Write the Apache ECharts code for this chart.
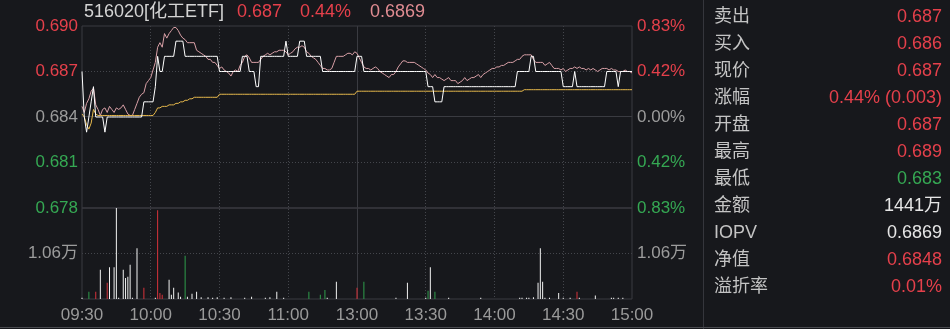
<!DOCTYPE html>
<html><head><meta charset="utf-8">
<script src="https://cdn.jsdelivr.net/npm/echarts@6/dist/echarts.min.js"></script>
<style>html,body{margin:0;padding:0;background:#17181c;}#c{width:950px;height:329px;}</style>
</head><body><div id="c"></div>
<script>
// ---------- data ----------
const preClose = 0.684;
const titleName = '516020[化工ETF]';
const headPrice = '0.687';
const headPct = '0.44%';
const headIopv = '0.6869';

const timeLabels = ['09:30','10:00','10:30','11:00','13:00','13:30','14:00','14:30','15:00'];
const priceTicks = ['0.690','0.687','0.684','0.681','0.678'];
const pctTicks = ['0.83%','0.42%','0.00%','0.42%','0.83%'];
const volTickLabel = '1.06万';
const volTickValue = 1.06;
const volMax = 2.12;

const price = [
0.687,0.684,0.683,0.684,0.685,0.686,0.684,0.684,0.684,0.684,
0.683,0.684,0.684,0.684,0.684,0.684,0.684,0.684,0.684,0.684,
0.684,0.684,0.684,0.684,0.684,0.684,0.684,0.685,0.685,0.685,
0.685,0.685,0.686,0.688,0.687,0.687,0.688,0.688,0.688,0.688,
0.688,0.689,0.689,0.689,0.689,0.688,0.688,0.688,0.688,0.688,
0.688,0.688,0.688,0.688,0.688,0.688,0.688,0.688,0.688,0.688,
0.687,0.687,0.687,0.687,0.687,0.687,0.687,0.687,0.687,0.687,
0.688,0.688,0.688,0.687,0.687,0.687,0.686,0.686,0.688,0.688,
0.688,0.688,0.688,0.688,0.688,0.688,0.688,0.688,0.688,0.689,
0.688,0.688,0.688,0.688,0.688,0.689,0.689,0.689,0.688,0.688,
0.688,0.688,0.688,0.688,0.688,0.687,0.687,0.687,0.687,0.687,
0.687,0.687,0.687,0.687,0.687,0.687,0.687,0.687,0.687,0.687,
0.688,0.688,0.688,0.687,0.687,0.687,0.687,0.687,0.687,0.687,
0.687,0.687,0.687,0.687,0.687,0.687,0.687,0.687,0.687,0.687,
0.687,0.687,0.687,0.687,0.687,0.687,0.687,0.687,0.687,0.687,
0.687,0.686,0.686,0.686,0.685,0.685,0.685,0.685,0.686,0.686,
0.686,0.686,0.686,0.686,0.686,0.686,0.686,0.686,0.686,0.686,
0.686,0.686,0.686,0.686,0.686,0.686,0.686,0.686,0.686,0.686,
0.686,0.686,0.686,0.686,0.686,0.686,0.686,0.686,0.686,0.686,
0.687,0.687,0.687,0.687,0.687,0.687,0.688,0.688,0.687,0.687,
0.687,0.687,0.687,0.687,0.687,0.687,0.687,0.687,0.687,0.687,
0.686,0.686,0.686,0.686,0.686,0.687,0.686,0.686,0.686,0.686,
0.686,0.686,0.686,0.686,0.686,0.686,0.686,0.686,0.686,0.687,
0.687,0.687,0.687,0.687,0.686,0.687,0.687,0.687,0.687,0.687,
0.687
];

const iopv = [
0.6847,0.6843,0.6849,0.6852,0.6857,0.6859,0.6848,0.6845,0.6841,0.6845,
0.6846,0.6843,0.6847,0.6845,0.6843,0.6846,0.6845,0.6846,0.6848,0.6845,
0.6842,0.6841,0.6841,0.6845,0.6849,0.6853,0.6855,0.6856,0.6862,0.6864,
0.6866,0.6871,0.6876,0.6886,0.6889,0.6886,0.6895,0.6892,0.6895,0.6897,
0.6899,0.6899,0.6897,0.6894,0.6892,0.6891,0.6889,0.6889,0.6889,0.6889,
0.6884,0.6883,0.6882,0.6881,0.6880,0.6878,0.6878,0.6876,0.6876,0.6874,
0.6872,0.6873,0.6871,0.6870,0.6869,0.6867,0.6870,0.6871,0.6870,0.6874,
0.6876,0.6880,0.6881,0.6879,0.6876,0.6876,0.6876,0.6876,0.6878,0.6880,
0.6881,0.6882,0.6881,0.6882,0.6883,0.6883,0.6884,0.6884,0.6884,0.6883,
0.6881,0.6882,0.6883,0.6885,0.6886,0.6886,0.6887,0.6886,0.6883,0.6882,
0.6880,0.6879,0.6878,0.6876,0.6874,0.6872,0.6872,0.6871,0.6871,0.6872,
0.6876,0.6880,0.6880,0.6880,0.6880,0.6881,0.6882,0.6882,0.6881,0.6883,
0.6882,0.6879,0.6876,0.6873,0.6872,0.6872,0.6871,0.6872,0.6873,0.6872,
0.6870,0.6869,0.6868,0.6867,0.6866,0.6868,0.6868,0.6870,0.6873,0.6875,
0.6877,0.6877,0.6876,0.6876,0.6876,0.6876,0.6875,0.6874,0.6873,0.6872,
0.6871,0.6869,0.6868,0.6866,0.6868,0.6866,0.6866,0.6865,0.6864,0.6865,
0.6866,0.6864,0.6864,0.6864,0.6862,0.6863,0.6864,0.6866,0.6864,0.6865,
0.6866,0.6866,0.6867,0.6868,0.6866,0.6868,0.6869,0.6870,0.6871,0.6872,
0.6872,0.6873,0.6873,0.6874,0.6874,0.6875,0.6876,0.6876,0.6876,0.6877,
0.6878,0.6878,0.6880,0.6881,0.6881,0.6881,0.6881,0.6878,0.6876,0.6876,
0.6876,0.6876,0.6874,0.6875,0.6876,0.6874,0.6872,0.6872,0.6872,0.6871,
0.6872,0.6870,0.6871,0.6872,0.6872,0.6873,0.6872,0.6873,0.6872,0.6872,
0.6871,0.6872,0.6871,0.6872,0.6871,0.6870,0.6871,0.6872,0.6872,0.6872,
0.6871,0.6872,0.6871,0.6871,0.6870,0.6870,0.6870,0.6871,0.6870,0.6870,
0.6869
];

const avgPrice = [
0.6842,0.6840,0.6835,0.6832,0.6836,0.6845,0.6842,0.6841,0.6841,0.6841,
0.6841,0.6841,0.6841,0.6841,0.6841,0.6841,0.6841,0.6841,0.6841,0.6841,
0.6841,0.6841,0.6841,0.6841,0.6841,0.6841,0.6841,0.6841,0.6841,0.6841,
0.6841,0.6841,0.6843,0.6846,0.6846,0.6847,0.6847,0.6847,0.6848,0.6848,
0.6848,0.6849,0.6849,0.6850,0.6850,0.6851,0.6851,0.6852,0.6852,0.6853,
0.6853,0.6853,0.6853,0.6853,0.6853,0.6853,0.6853,0.6853,0.6853,0.6853,
0.6855,0.6855,0.6855,0.6855,0.6855,0.6855,0.6855,0.6855,0.6855,0.6855,
0.6855,0.6855,0.6855,0.6855,0.6855,0.6855,0.6855,0.6855,0.6855,0.6855,
0.6855,0.6855,0.6855,0.6855,0.6855,0.6855,0.6855,0.6855,0.6855,0.6855,
0.6855,0.6855,0.6855,0.6855,0.6855,0.6855,0.6855,0.6855,0.6855,0.6855,
0.6855,0.6855,0.6855,0.6855,0.6855,0.6855,0.6855,0.6855,0.6855,0.6855,
0.6855,0.6855,0.6855,0.6855,0.6855,0.6855,0.6855,0.6855,0.6855,0.6855,
0.6857,0.6857,0.6857,0.6857,0.6857,0.6857,0.6857,0.6857,0.6857,0.6857,
0.6857,0.6857,0.6857,0.6857,0.6857,0.6857,0.6857,0.6857,0.6857,0.6857,
0.6857,0.6857,0.6857,0.6857,0.6857,0.6857,0.6857,0.6857,0.6857,0.6857,
0.6857,0.6857,0.6857,0.6857,0.6857,0.6857,0.6857,0.6857,0.6857,0.6857,
0.6857,0.6857,0.6857,0.6857,0.6857,0.6857,0.6857,0.6857,0.6857,0.6857,
0.6857,0.6857,0.6857,0.6857,0.6857,0.6857,0.6857,0.6857,0.6857,0.6857,
0.6857,0.6857,0.6857,0.6857,0.6857,0.6857,0.6857,0.6857,0.6857,0.6857,
0.6857,0.6857,0.6857,0.6858,0.6858,0.6858,0.6858,0.6858,0.6858,0.6858,
0.6858,0.6858,0.6858,0.6858,0.6858,0.6858,0.6858,0.6858,0.6858,0.6858,
0.6858,0.6858,0.6858,0.6858,0.6858,0.6858,0.6858,0.6858,0.6858,0.6858,
0.6858,0.6858,0.6858,0.6858,0.6858,0.6858,0.6858,0.6858,0.6858,0.6858,
0.6858,0.6858,0.6858,0.6858,0.6858,0.6858,0.6858,0.6858,0.6858,0.6858,
0.6858
];

// [minute index, volume (万), direction: 1 up, -1 down, 0 flat]
const volumeBars = [
[0,0.03,0],[3,0.17,-1],[6,0.17,1],[8,0.68,0],[11,0.38,1],[12,0.74,0],[14,0.74,0],[15,2.12,0],
[16,0.03,0],[18,0.68,0],[19,0.49,0],[20,0.52,0],[21,0.80,0],[22,0.03,0],[24,1.18,0],[27,0.26,1],
[32,0.03,0],[33,2.07,1],[34,0.14,1],[35,0.10,1],[38,0.45,0],[39,0.10,0],[40,0.26,0],[42,0.15,0],
[43,0.05,0],[45,1.01,-1],[46,0.05,0],[48,0.12,0],[50,0.17,0],[52,0.04,0],[55,0.04,0],[57,0.03,0],
[59,0.04,0],[62,0.03,0],[65,0.04,0],[71,0.03,0],[74,0.05,0],[80,0.03,0],[82,0.04,0],[85,0.17,0],
[88,0.03,0],[99,0.17,-1],[104,0.10,-1],[106,0.21,-1],[107,0.03,0],[111,0.40,0],[120,0.26,1],
[123,0.40,-1],[137,0.03,0],[142,0.38,0],[150,0.03,0],[151,0.19,-1],[152,0.74,0],[154,0.17,-1],
[160,0.03,0],[174,0.03,0],[191,0.03,0],[192,0.03,0],[194,0.03,0],[195,0.03,0],[197,0.04,0],
[199,0.38,0],[200,1.18,0],[201,0.40,0],[202,0.03,0],[204,0.03,0],[208,0.14,0],[210,0.03,0],
[213,0.03,0],[216,0.17,1],[217,0.03,0],[224,0.08,0],[231,0.03,0],[232,0.03,0],[234,0.03,0],[236,0.03,0]
];

const panelLabels = ['卖出','买入','现价','涨幅','开盘','最高','最低','金额','IOPV','净值','溢折率'];
const panelValues = ['0.687','0.686','0.687','0.44% (0.003)','0.687','0.689','0.683','1441万','0.6869','0.6848','0.01%'];
const panelTones  = ['up','up','up','up','up','up','down','flat','flat','up','up'];

// ---------- styling ----------
const RED = '#e5404b', GREEN = '#35a853', GRAY = '#9c9c9c', WHITE = '#e6e6e6';
const GRIDSOLID = '#3a3b41', GRIDDOT = '#44464c';
const FONT_LATIN = '"Liberation Sans","Noto Sans CJK SC",sans-serif';

function pad(n){return (n<10?'0':'')+n;}
function fmt(m){return pad(Math.floor(m/60))+':'+pad(m%60);}
const cats = [];
for (let m = 9*60+30; m < 11*60+30; m++) cats.push(fmt(m));
for (let m = 13*60; m <= 15*60; m++) cats.push(fmt(m));

const toneColor = {up: RED, down: GREEN, flat: WHITE};
const dirColor = {'1': '#d8323b', '-1': '#2f9e4c', '0': '#f2f2f2'};

const volData = cats.map(() => null);
volumeBars.forEach(([i, v, d]) => {
  volData[i] = {value: v, itemStyle: {color: dirColor[String(d)]}};
});

const priceTickValues = priceTicks.map(parseFloat);
const priceMax = priceTickValues[0], priceMin = priceTickValues[priceTickValues.length-1];
const priceStep = +(priceMax - priceTickValues[1]).toFixed(4);
const priceIdx = v => Math.round((priceMax - v) / priceStep);
const volIsMid = v => Math.abs(v - volTickValue) < 1e-6;
const tickColor = v => { const k = priceIdx(v); return k < 2 ? RED : (k === 2 ? GRAY : GREEN); };

const chart = echarts.init(document.getElementById('c'), null, {renderer: 'canvas'});

const baseGraphic = [
  {type:'text', x:84, y:12, style:{text:titleName, fill:'#d4d4d4', font:'18px '+FONT_LATIN, verticalAlign:'middle', textVerticalAlign:'middle'}},
  {type:'text', x:237, y:12, style:{text:headPrice, fill:RED, font:'18px '+FONT_LATIN, verticalAlign:'middle', textVerticalAlign:'middle'}},
  {type:'text', x:300, y:12, style:{text:headPct, fill:RED, font:'18px '+FONT_LATIN, verticalAlign:'middle', textVerticalAlign:'middle'}},
  {type:'text', x:370, y:12, style:{text:headIopv, fill:'#e08c92', font:'18px '+FONT_LATIN, verticalAlign:'middle', textVerticalAlign:'middle'}},
  {type:'line', shape:{x1:703.5, y1:0, x2:703.5, y2:329}, style:{stroke:'#35363c', lineWidth:1}},
  {type:'line', shape:{x1:0, y1:327.5, x2:950, y2:327.5}, style:{stroke:'#4a4b50', lineWidth:1}}
];
panelLabels.forEach((lab, k) => {
  const y = 17 + 27*k;
  baseGraphic.push({type:'text', x:714, y:y, style:{text:lab, fill:'#c4c4c4', font:'18px '+FONT_LATIN, verticalAlign:'middle', textVerticalAlign:'middle'}});
  baseGraphic.push({type:'text', x:942, y:y, style:{text:panelValues[k], fill:toneColor[panelTones[k]], font:'18px '+FONT_LATIN, align:'right', textAlign:'right', verticalAlign:'middle', textVerticalAlign:'middle'}});
});

chart.setOption({
  backgroundColor: '#17181c',
  animation: false,
  grid: [
    {left:82, right:318, top:26, height:182, show:true, borderColor:GRIDSOLID, borderWidth:1, backgroundColor:'transparent', containLabel:false, outerBoundsMode:'none'},
    {left:82, right:318, top:208, height:91, show:true, borderColor:GRIDSOLID, borderWidth:1, backgroundColor:'transparent', containLabel:false, outerBoundsMode:'none'}
  ],
  xAxis: [
    {type:'category', gridIndex:0, data:cats, boundaryGap:false,
     axisLine:{show:false}, axisTick:{show:false}, axisLabel:{show:false}, splitLine:{show:false}},
    {type:'category', gridIndex:1, data:cats, boundaryGap:false,
     axisLine:{show:false}, axisTick:{show:false}, splitLine:{show:false},
     axisLabel:{show:true, interval:(i, v) => timeLabels.includes(v), color:'#9a9a9a', fontSize:17, fontFamily:FONT_LATIN, margin:8, hideOverlap:false}}
  ],
  yAxis: [
    {type:'value', gridIndex:0, position:'left', min:priceMin, max:priceMax, interval:priceStep,
     axisLine:{show:false}, axisTick:{show:false}, splitLine:{show:false},
     axisLabel:{formatter: v => priceTicks[priceIdx(v)] || '', color: tickColor, fontSize:17, fontFamily:FONT_LATIN, margin:4}},
    {type:'value', gridIndex:0, position:'right', min:priceMin, max:priceMax, interval:priceStep,
     axisLine:{show:false}, axisTick:{show:false}, splitLine:{show:false},
     axisLabel:{formatter: v => pctTicks[priceIdx(v)] || '', color: tickColor, fontSize:17, fontFamily:FONT_LATIN, margin:5}},
    {type:'value', gridIndex:1, position:'left', min:0, max:volMax, interval:volTickValue,
     axisLine:{show:false}, axisTick:{show:false}, splitLine:{show:false},
     axisLabel:{formatter: v => volIsMid(v) ? volTickLabel : '', color:GRAY, fontSize:17, fontFamily:FONT_LATIN, margin:4}},
    {type:'value', gridIndex:1, position:'right', min:0, max:volMax, interval:volTickValue,
     axisLine:{show:false}, axisTick:{show:false}, splitLine:{show:false},
     axisLabel:{formatter: v => volIsMid(v) ? volTickLabel : '', color:GRAY, fontSize:17, fontFamily:FONT_LATIN, margin:5}}
  ],
  series: [
    {name:'IOPV', type:'line', xAxisIndex:0, yAxisIndex:0, data:iopv, showSymbol:false, symbol:'none',
     lineStyle:{color:'#d9a0a7', width:1}, z:3},
    {name:'均价', type:'line', xAxisIndex:0, yAxisIndex:0, data:avgPrice, showSymbol:false, symbol:'none',
     lineStyle:{color:'#e6b84c', width:1}, z:4},
    {name:'价格', type:'line', xAxisIndex:0, yAxisIndex:0, data:price, showSymbol:false, symbol:'none',
     lineStyle:{color:'#ffffff', width:1}, z:5},
    {name:'成交量', type:'bar', xAxisIndex:1, yAxisIndex:2, data:volData, barWidth:1, z:3}
  ],
  graphic: baseGraphic
});

// ---------- grid lines placed through the axes' own scales ----------
const crisp = v => Math.floor(v) + 0.5;
const xL = chart.convertToPixel({xAxisIndex:0}, cats[0]);
const xR = chart.convertToPixel({xAxisIndex:0}, cats[cats.length-1]);
const yTop = chart.convertToPixel({yAxisIndex:0}, priceMax);
const yBot = chart.convertToPixel({yAxisIndex:2}, 0);
const gridLines = [];
priceTickValues.forEach((v, k) => {
  if (k === 0 || k === priceTickValues.length-1) return;
  const y = crisp(chart.convertToPixel({yAxisIndex:0}, v));
  const solid = Math.abs(v - preClose) < 1e-6;
  gridLines.push({type:'line', z:-1, silent:true, shape:{x1:xL, y1:y, x2:xR, y2:y},
    style:{stroke: solid ? GRIDSOLID : GRIDDOT, lineWidth:1, lineDash: solid ? null : [1,2]}});
});
{
  const y = crisp(chart.convertToPixel({yAxisIndex:2}, volTickValue));
  gridLines.push({type:'line', z:-1, silent:true, shape:{x1:xL, y1:y, x2:xR, y2:y},
    style:{stroke: GRIDDOT, lineWidth:1, lineDash:[1,2]}});
}
timeLabels.forEach((t, k) => {
  if (k === 0 || k === timeLabels.length-1) return;
  const x = crisp(chart.convertToPixel({xAxisIndex:1}, t));
  const solid = t === '13:00';
  gridLines.push({type:'line', z:-1, silent:true, shape:{x1:x, y1:yTop, x2:x, y2:yBot},
    style:{stroke: solid ? GRIDSOLID : GRIDDOT, lineWidth:1, lineDash: solid ? null : [1,2]}});
});
chart.setOption({graphic: baseGraphic.concat(gridLines)});
</script>
</body></html>
